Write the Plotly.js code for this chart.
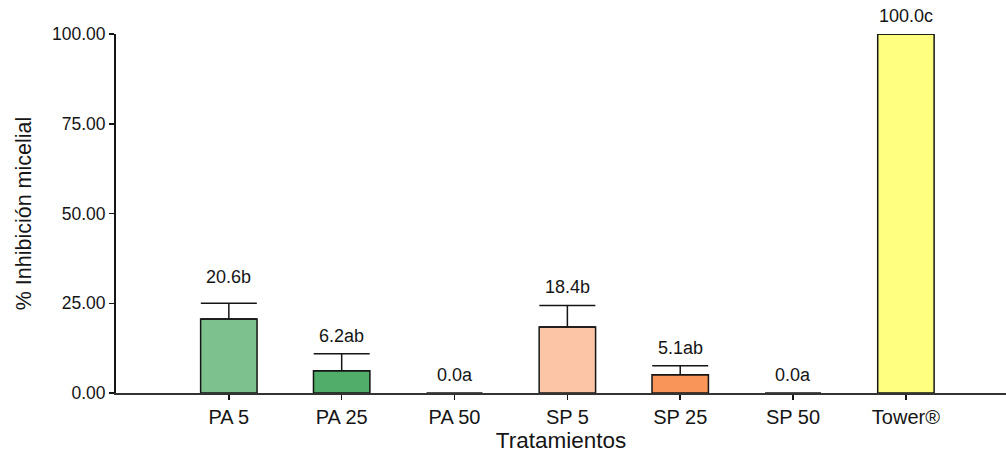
<!DOCTYPE html>
<html>
<head>
<meta charset="utf-8">
<script src="https://cdn.plot.ly/plotly-3.0.1.min.js"></script>
<style>html,body{margin:0;padding:0;background:#fff;}#chart{width:1006px;height:453px;}</style>
</head>
<body>
<div id="chart"></div>
<script>
var categories = ["PA 5", "PA 25", "PA 50", "SP 5", "SP 25", "SP 50", "Tower\u00ae"];
var means = [20.6, 6.2, 0.0, 18.4, 5.1, 0.0, 100.0];
var errors = [4.4, 4.7, 0, 6.0, 2.5, 0, 0];
var letters = ["b", "ab", "a", "b", "ab", "a", "c"];
var colors = ["#7dc28e", "#50ad6a", "#ffffff", "#fcc6a6", "#f99558", "#ffffff", "#ffff80"];

var FONT = "Liberation Sans, Arial, sans-serif";
var INK = "#151515";

var trace = {
  type: "bar",
  x: categories,
  y: means,
  width: 0.5,
  marker: {
    color: colors,
    line: { color: INK, width: means.map(function(v){ return v > 0 ? 1.5 : 0; }) }
  },
  error_y: {
    type: "data", symmetric: false, array: errors,
    arrayminus: errors.map(function(){ return 0; }),
    color: INK, thickness: 1.5, width: 28
  },
  hoverinfo: "none"
};

var annotations = categories.map(function(c, i) {
  var shift = (i === 0) ? 16 : 8;
  return {
    x: c, y: means[i] + errors[i], xref: "x", yref: "y",
    text: means[i].toFixed(1) + letters[i],
    showarrow: false, yanchor: "bottom", yshift: shift - 2,
    font: { family: FONT, size: 18, color: INK }
  };
});

var layout = {
  width: 1006, height: 453,
  margin: { l: 116, r: 0, t: 34, b: 60, pad: 0 },
  paper_bgcolor: "#ffffff", plot_bgcolor: "#ffffff",
  showlegend: false,
  xaxis: {
    type: "category",
    range: [-1, 6.887],
    showline: true, linecolor: "#333333", linewidth: 2,
    ticks: "outside", ticklen: 5, tickwidth: 1.5, tickcolor: INK,
    showgrid: false, zeroline: false,
    tickfont: { family: FONT, size: 20, color: INK },
    title: { text: "Tratamientos", font: { family: FONT, size: 22.5, color: INK }, standoff: 6 }
  },
  yaxis: {
    range: [0, 100],
    tickvals: [0, 25, 50, 75, 100],
    tickformat: ".2f",
    showline: true, linecolor: INK, linewidth: 2,
    ticks: "outside", ticklen: 5, tickwidth: 1.5, tickcolor: INK,
    showgrid: false, zeroline: false,
    tickfont: { family: FONT, size: 17.5, color: INK },
    title: { text: "% Inhibición micelial", font: { family: FONT, size: 21.5, color: INK }, standoff: 14 }
  },
  annotations: annotations
};

Plotly.newPlot("chart", [trace], layout, { displayModeBar: false, staticPlot: true });
</script>
</body>
</html>
